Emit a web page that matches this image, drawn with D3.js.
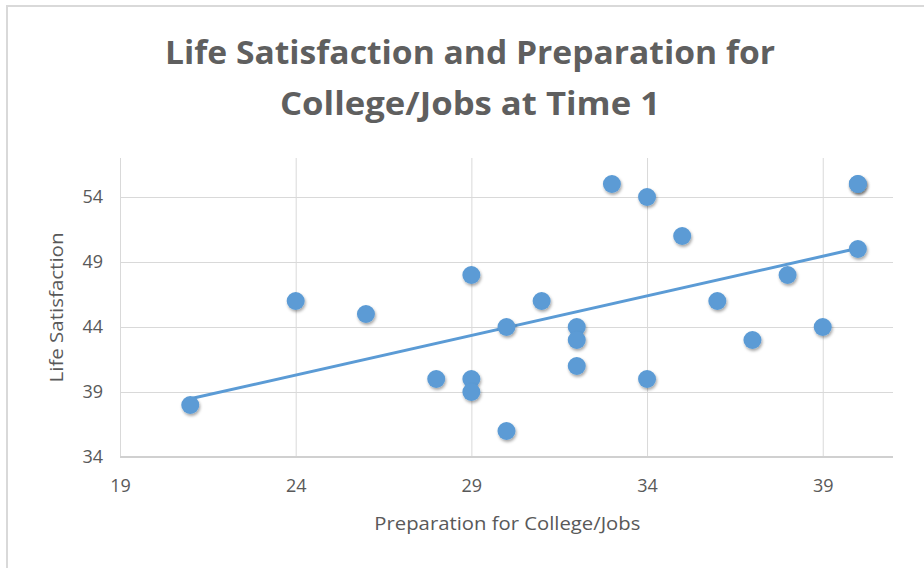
<!DOCTYPE html>
<html>
<head>
<meta charset="utf-8">
<script src="https://cdn.jsdelivr.net/npm/d3@7"></script>
<style>
  body { margin: 0; background: #fff; }
  text { font-family: "Open Sans", "Noto Sans", sans-serif; fill: #595959; }
</style>
</head>
<body>
<div id="chart-area"></div>
<script>
// Preparation for College/Jobs (x) and Life Satisfaction (y), one entry per respondent
var prepScores = [21, 24, 26, 28, 29, 29, 29, 30, 30, 31, 32, 32, 32, 33, 34, 34, 35, 36, 37, 38, 39, 40, 40, 40];
var lifeSat    = [38, 46, 45, 40, 48, 40, 39, 44, 36, 46, 44, 43, 41, 55, 54, 40, 51, 46, 43, 48, 44, 55, 55, 50];

var xTicks = [19, 24, 29, 34, 39];
var yTicks = [34, 39, 44, 49, 54];

var titleLines = ["Life Satisfaction and Preparation for", "College/Jobs at Time 1"];

var W = 924, H = 568;
var margin = { top: 158, right: 31, bottom: 111, left: 120 };
var width = W - margin.left - margin.right;
var height = H - margin.top - margin.bottom;

var svg = d3.select("#chart-area")
    .append("svg")
        .attr("width", W)
        .attr("height", H);

// drop shadow for the markers
var defs = svg.append("defs");
var f = defs.append("filter").attr("id", "shadow")
    .attr("x", "-50%").attr("y", "-50%").attr("width", "200%").attr("height", "200%");
f.append("feDropShadow")
    .attr("dx", 1).attr("dy", 2).attr("stdDeviation", 1.5)
    .attr("flood-color", "#000").attr("flood-opacity", 0.35);

// outer chart border
svg.append("rect")
    .attr("x", 7).attr("y", 6)
    .attr("width", W + 10).attr("height", H + 10)
    .attr("fill", "none")
    .attr("stroke", "#d9d9d9")
    .attr("stroke-width", 2);

// Title
svg.append("text")
    .attr("x", 470)
    .attr("text-anchor", "middle")
    .attr("font-size", "32px")
    .attr("font-weight", "bold")
    .style("fill", "#5f5f5f")
    .selectAll("tspan")
    .data(titleLines)
    .enter().append("tspan")
        .attr("x", 470)
        .attr("y", (d, i) => 64 + i * 51)
        .attr("textLength", (d, i) => i == 0 ? 610 : 380)
        .attr("lengthAdjust", "spacingAndGlyphs")
        .text(d => d);

var group = svg.append("g")
    .attr("transform", "translate(" + margin.left + ", " + margin.top + ")");

// X Scale
var x = d3.scaleLinear()
    .domain([19, 41])
    .range([0, width]);

// Y Scale
var y = d3.scaleLinear()
    .domain([34, 57])
    .range([height, 0]);

// gridlines
group.append("g")
    .attr("class", "x-grid")
    .attr("transform", "translate(0, " + height + ")")
    .call(d3.axisBottom(x).tickValues(xTicks).tickSize(-height).tickFormat(""))
    .call(g => g.select(".domain").remove())
    .call(g => g.selectAll("line").attr("stroke", "#d9d9d9"));

group.append("g")
    .attr("class", "y-grid")
    .call(d3.axisLeft(y).tickValues(yTicks.slice(1)).tickSize(-width).tickFormat(""))
    .call(g => g.select(".domain").remove())
    .call(g => g.selectAll("line").attr("stroke", "#d9d9d9"));

// bottom axis line
group.append("line")
    .attr("x1", 0).attr("x2", width)
    .attr("y1", y(34)).attr("y2", y(34))
    .attr("stroke", "#d0d0d0")
    .attr("stroke-width", 2);

// X axis labels
var xAxisGroup = group.append("g")
    .attr("class", "x-axis")
    .attr("transform", "translate(0, " + height + ")")
    .call(d3.axisBottom(x).tickValues(xTicks).tickSize(0).tickPadding(22));
xAxisGroup.select(".domain").remove();
xAxisGroup.selectAll("text")
    .attr("font-size", "18px")
    .attr("fill", "#595959")
    .style("font-family", "'Open Sans', sans-serif");

// Y axis labels
var yAxisGroup = group.append("g")
    .attr("class", "y-axis")
    .call(d3.axisLeft(y).tickValues(yTicks).tickSize(0).tickPadding(17));
yAxisGroup.select(".domain").remove();
yAxisGroup.selectAll("text")
    .attr("font-size", "18px")
    .attr("fill", "#595959")
    .style("font-family", "'Open Sans', sans-serif");

// X Label
group.append("text")
    .attr("x", x(29) + 36)
    .attr("y", height + 73)
    .attr("font-size", "18px")
    .attr("textLength", 266)
    .attr("lengthAdjust", "spacingAndGlyphs")
    .attr("text-anchor", "middle")
    .text("Preparation for College/Jobs");

// Y Label
group.append("text")
    .attr("x", -(height / 2))
    .attr("y", -57)
    .attr("font-size", "18px")
    .attr("textLength", 150)
    .attr("lengthAdjust", "spacingAndGlyphs")
    .attr("text-anchor", "middle")
    .attr("transform", "rotate(-90)")
    .text("Life Satisfaction");

var data = prepScores.map((p, i) => ({ prep: p, sat: lifeSat[i] }));

// linear trendline (least squares)
var mx = d3.mean(data, d => d.prep);
var my = d3.mean(data, d => d.sat);
var sxy = d3.sum(data, d => (d.prep - mx) * (d.sat - my));
var sxx = d3.sum(data, d => (d.prep - mx) * (d.prep - mx));
var slope = sxy / sxx;
var intercept = my - slope * mx;
var xExt = d3.extent(data, d => d.prep);

group.append("line")
    .attr("x1", x(xExt[0])).attr("y1", y(intercept + slope * xExt[0]))
    .attr("x2", x(xExt[1])).attr("y2", y(intercept + slope * xExt[1]))
    .attr("stroke", "#5b9bd5")
    .attr("stroke-width", 3);

// points
group.selectAll("circle")
    .data(data)
    .enter()
    .append("circle")
        .attr("cx", d => x(d.prep))
        .attr("cy", d => y(d.sat))
        .attr("r", 9)
        .attr("fill", "#5b9bd5")
        .attr("filter", "url(#shadow)");
</script>
</body>
</html>
